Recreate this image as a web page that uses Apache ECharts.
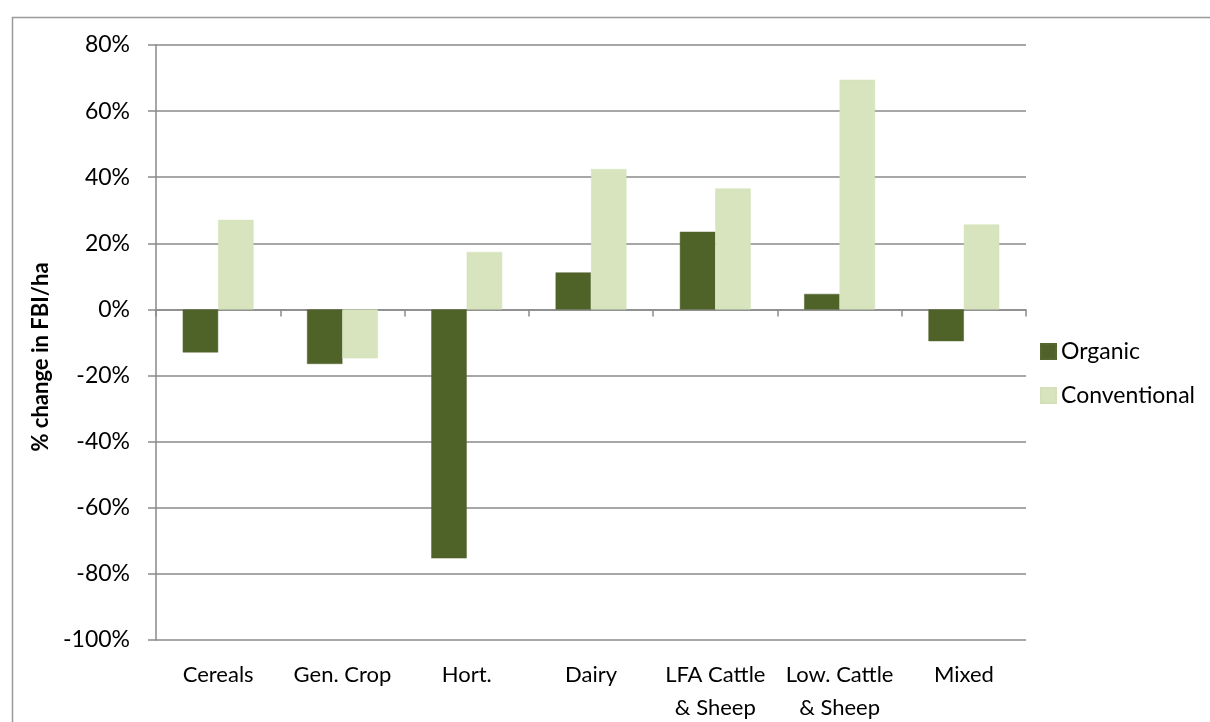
<!DOCTYPE html>
<html>
<head>
<meta charset="utf-8">
<script src="https://cdn.jsdelivr.net/npm/echarts@6/dist/echarts.min.js"></script>
<style>html,body{margin:0;padding:0;background:#fff}#c{width:1210px;height:722px}</style>
</head>
<body>
<div id="c"></div>
<script>
const categories = ['Cereals', 'Gen. Crop', 'Hort.', 'Dairy', 'LFA Cattle\n& Sheep', 'Low. Cattle\n& Sheep', 'Mixed'];
const organic = [-13, -16.5, -75.3, 11.2, 23.5, 4.7, -9.6];
const conventional = [27.1, -14.8, 17.4, 42.5, 36.6, 69.5, 25.7];
const yTicks = { min: -100, max: 80, interval: 20 };
const seriesNames = ['Organic', 'Conventional'];
const axisName = '% change in FBI/ha';

const gray = '#8a8a8a';
const font = 'Lato, "Open Sans", sans-serif';
const chart = echarts.init(document.getElementById('c'));
chart.setOption({
  animation: false,
  backgroundColor: '#fff',
  graphic: [
    { type: 'rect', left: 10, top: 15, shape: { width: 1300, height: 800 }, style: { fill: 'none', stroke: '#9a9a9a', lineWidth: 1.5 } },
    { type: 'text', x: 41, y: 357, rotation: Math.PI / 2, style: { text: axisName, font: 'bold 22px ' + font, fill: '#000', align: 'center', verticalAlign: 'middle' } }
  ],
  grid: { left: 156, right: 184, top: 45, bottom: 82, outerBoundsMode: 'none', containLabel: false },
  legend: {
    orient: 'vertical', left: 1035, top: 335, itemWidth: 15, itemHeight: 15, itemGap: 21,
    icon: 'rect',
    textStyle: { fontFamily: font, fontSize: 23, color: '#000' },
    data: seriesNames
  },
  xAxis: [
    {
      type: 'category', data: categories,
      axisLine: { onZero: true, lineStyle: { color: gray, width: 1.5 } },
      axisTick: { show: true, length: 7, lineStyle: { color: gray, width: 1.5 } },
      axisLabel: { show: false }
    },
    {
      type: 'category', data: categories, position: 'bottom',
      axisLine: { show: false }, axisTick: { show: false },
      axisLabel: { interval: 0, fontFamily: font, fontSize: 22, color: '#000', margin: 18, lineHeight: 33 }
    }
  ],
  yAxis: {
    type: 'value', min: yTicks.min, max: yTicks.max, interval: yTicks.interval,
    axisLine: { show: true, lineStyle: { color: gray, width: 1.5 } },
    axisTick: { show: true, length: 8, lineStyle: { color: gray, width: 1.5 } },
    splitLine: { show: true, lineStyle: { color: gray, width: 1.5 } },
    axisLabel: { formatter: '{value}%', fontFamily: font, fontSize: 23, color: '#000', margin: 26 }
  },
  series: [
    { name: seriesNames[0], type: 'bar', data: organic, barGap: '0%', barCategoryGap: '43%',
      itemStyle: { color: '#4F6228', borderColor: '#56672f', borderWidth: 0.5 } },
    { name: seriesNames[1], type: 'bar', data: conventional,
      itemStyle: { color: '#D7E4BD', borderColor: '#d3e0b8', borderWidth: 0.5 } }
  ]
});
</script>
</body>
</html>
